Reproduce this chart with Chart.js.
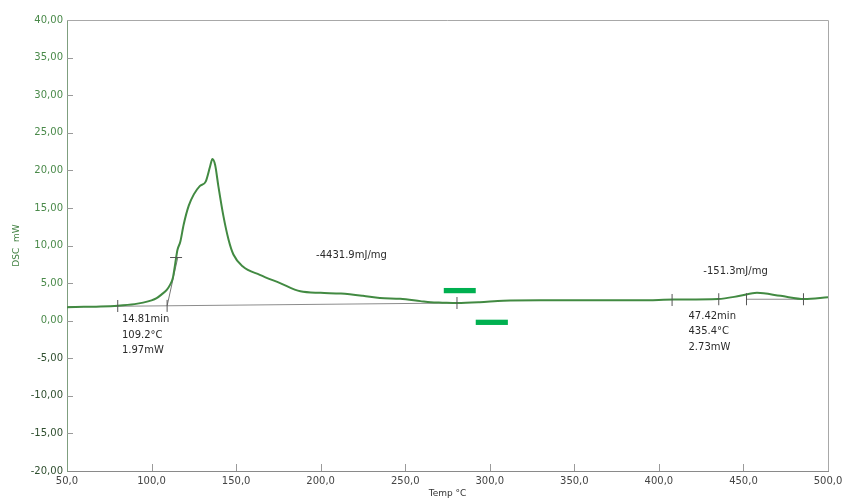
<!DOCTYPE html>
<html>
<head>
<meta charset="utf-8">
<script src="https://cdn.jsdelivr.net/npm/chart.js@4.4.1/dist/chart.umd.min.js"></script>
<style>
  html, body { margin: 0; padding: 0; background: #fff; }
  #wrap { width: 843px; height: 499px; }
</style>
</head>
<body>
<div id="wrap"><canvas id="c" width="843" height="499"></canvas></div>
<script>
// DSC curve (Temp °C -> mW)
const temps = [50, 60, 70, 80, 90, 95, 100, 103, 106, 109, 111, 112.5, 114, 115.3, 117, 119, 122, 125, 128.5, 132, 134.6, 136, 137.6, 139.5, 142.5, 145.5, 148.4, 154, 164, 176, 188, 200, 212, 225, 235, 247, 259, 265, 272, 280.6, 294, 308, 330, 353, 389, 409, 435, 448, 458, 472, 486, 500];
const dscValues = [1.8, 1.85, 1.9, 2.0, 2.2, 2.4, 2.7, 3.0, 3.5, 4.1, 4.8, 5.6, 7.6, 9.4, 10.5, 12.8, 15.3, 16.8, 17.9, 18.5, 20.5, 21.5, 20.7, 17.9, 13.9, 10.8, 8.8, 7.2, 6.1, 5.0, 3.9, 3.7, 3.6, 3.3, 3.0, 2.9, 2.6, 2.45, 2.4, 2.35, 2.45, 2.65, 2.7, 2.7, 2.7, 2.8, 2.88, 3.3, 3.7, 3.3, 2.88, 3.1];

// baselines / tangent
const baseline1 = [{x: 50, y: 1.85}, {x: 280.6, y: 2.35}];
const baseline2 = [{x: 451.8, y: 2.85}, {x: 485.5, y: 2.85}];
const tangent = [{x: 109.2, y: 1.97}, {x: 115.5, y: 8.4}];

// cursor marks
const markTemps = [80, 109.2, 114.5, 280.6, 407.8, 435.4, 451.8, 485.5];
const markValues = [1.95, 1.97, 8.4, 2.35, 2.75, 2.85, 2.85, 2.85];
const markRotation = [90, 90, 0, 90, 90, 90, 90, 90];

// axis ranges
const xMin = 50, xMax = 500, xStep = 50;
const yMin = -20, yMax = 40, yStep = 5;

// text annotations: [temp, value, lines]
const notes = [
  [82.5, 0.13, ['14.81min', '109.2°C', '1.97mW']],
  [417.5, 0.57, ['47.42min', '435.4°C', '2.73mW']],
  [197.3, 8.64, ['-4431.9mJ/mg']],
  [426.3, 6.56, ['-151.3mJ/mg']]
];

// green marks on the picture
const greenBoxes = [
  [272.8, 291.7, 3.65, 4.35],
  [291.7, 310.7, -0.57, 0.13]
];

const FONT = '"DejaVu Sans", sans-serif';

const decor = {
  id: 'decor',
  afterDatasetsDraw(chart) {
    const { ctx, chartArea: a, scales: { x, y } } = chart;
    ctx.save();
    // frame top/right
    ctx.strokeStyle = '#a8a8a8';
    ctx.lineWidth = 1;
    ctx.beginPath();
    ctx.moveTo(a.left, a.top + 0.5); ctx.lineTo(a.right + 0.5, a.top + 0.5);
    ctx.lineTo(a.right + 0.5, a.bottom);
    ctx.stroke();
    // inner ticks
    ctx.strokeStyle = '#9a9a9a';
    ctx.beginPath();
    for (let v = yMin + yStep; v < yMax; v += yStep) {
      const py = Math.round(y.getPixelForValue(v)) + 0.5;
      ctx.moveTo(a.left, py); ctx.lineTo(a.left + 6, py);
    }
    for (let v = xMin + xStep; v < xMax; v += xStep) {
      const px = Math.round(x.getPixelForValue(v)) + 0.5;
      ctx.moveTo(px, a.bottom); ctx.lineTo(px, a.bottom - 7);
    }
    ctx.stroke();
    // green boxes
    ctx.fillStyle = '#00b050';
    greenBoxes.forEach(([x0, x1, y0, y1]) => {
      const px0 = x.getPixelForValue(x0), px1 = x.getPixelForValue(x1);
      const py0 = y.getPixelForValue(y1), py1 = y.getPixelForValue(y0);
      ctx.fillRect(px0, py0, px1 - px0, py1 - py0);
    });
    // notes
    ctx.fillStyle = '#2a2a2a';
    ctx.font = '10px ' + FONT;
    ctx.textBaseline = 'middle';
    ctx.textAlign = 'left';
    notes.forEach(([t, v, lines]) => {
      const px = x.getPixelForValue(t), py = y.getPixelForValue(v);
      lines.forEach((s, i) => ctx.fillText(s, px, py + i * 15.5));
    });
    // axis titles
    ctx.font = '9px ' + FONT;
    ctx.fillStyle = '#3f7f3f';
    ctx.textAlign = 'center';
    ctx.translate(17, (a.top + a.bottom) / 2);
    ctx.rotate(-Math.PI / 2);
    ctx.fillText('DSC  mW', 0, 0);
    ctx.setTransform(1, 0, 0, 1, 0, 0);
    ctx.fillStyle = '#333';
    ctx.fillText('Temp °C', (a.left + a.right) / 2, 494);
    ctx.restore();
  }
};

new Chart(document.getElementById('c'), {
  type: 'scatter',
  data: {
    datasets: [
      {
        data: temps.map((t, i) => ({ x: t, y: dscValues[i] })),
        showLine: true,
        borderColor: '#428a42',
        borderWidth: 2,
        pointRadius: 0,
        cubicInterpolationMode: 'monotone',
        order: 1
      },
      { data: baseline1, showLine: true, borderColor: '#8c8c8c', borderWidth: 1, pointRadius: 0, order: 2 },
      { data: baseline2, showLine: true, borderColor: '#8c8c8c', borderWidth: 1, pointRadius: 0, order: 2 },
      { data: tangent, showLine: true, borderColor: '#777', borderWidth: 1, pointRadius: 0, order: 2 },
      {
        data: markTemps.map((t, i) => ({ x: t, y: markValues[i] })),
        showLine: false,
        pointStyle: 'line',
        pointRadius: 6,
        pointRotation: markRotation,
        borderColor: '#555',
        pointBorderWidth: 1,
        order: 0
      }
    ]
  },
  options: {
    responsive: false,
    animation: false,
    layout: { padding: { top: 20, right: 15, left: 0, bottom: 0 } },
    plugins: { legend: { display: false }, tooltip: { enabled: false } },
    scales: {
      x: {
        type: 'linear', min: xMin, max: xMax,
        afterFit(s) { s.height = 28; s.paddingRight = 0; s.paddingLeft = 0; },
        border: { color: '#8a8a8a', width: 1 },
        grid: { display: false, drawTicks: false },
        ticks: {
          stepSize: xStep, padding: 4,
          color: '#444', font: { family: FONT, size: 10 },
          maxRotation: 0,
          callback: v => v.toFixed(1).replace('.', ',')
        }
      },
      y: {
        min: yMin, max: yMax,
        afterFit(s) { s.width = 67; },
        border: { color: '#7f9f7f', width: 1 },
        grid: { display: false, drawTicks: false },
        ticks: {
          stepSize: yStep, padding: 4,
          color: c => (c.tick && c.tick.value < 0) ? '#2f4f2f' : '#4a8a4a',
          font: { family: FONT, size: 10 },
          callback: v => v.toFixed(2).replace('.', ',')
        }
      }
    }
  },
  plugins: [decor]
});
</script>
</body>
</html>
